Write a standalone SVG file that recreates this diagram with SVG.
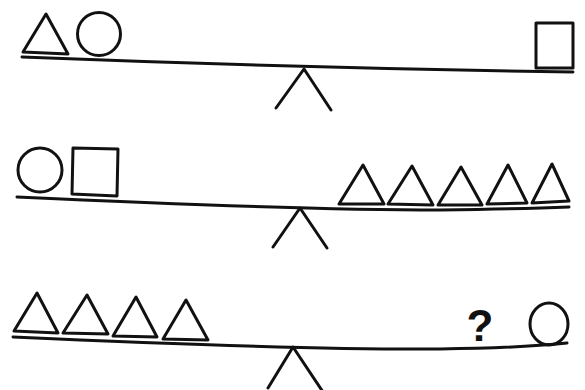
<svg xmlns="http://www.w3.org/2000/svg" width="585" height="390" viewBox="0 0 585 390">
<style>
.s{fill:none;stroke:#111;stroke-width:3;stroke-linejoin:round;stroke-linecap:round}
.b{fill:none;stroke:#111;stroke-width:3;stroke-linecap:round}
.q{font-family:"Liberation Sans",Arial,sans-serif;font-weight:bold;font-size:44px;fill:#111}
</style>
<rect width="585" height="390" fill="#fff"/>
<g id="scale1">
<path class="b" d="M22 57 Q300 68 573 72"/>
<path class="s" d="M276 108 L304 69 L331 110"/>
<polygon class="s" points="46,14 23,52 68,54"/>
<circle class="s" cx="99" cy="34" r="21.5"/>
<rect class="s" x="536" y="23" width="37" height="45"/>
</g>
<g id="scale2">
<path class="b" d="M17 197 Q300 210 440 210 Q520 209 569 207"/>
<path class="s" d="M273 247 L300 208 L327 248"/>
<circle class="s" cx="40" cy="170" r="22"/>
<polygon class="s" points="73,148 118,149 117,196 72,194"/>
<polygon class="s" points="363,165 339,204 384,204"/>
<polygon class="s" points="412,166 388,204 433,205"/>
<polygon class="s" points="461,167 438,205 482,205"/>
<polygon class="s" points="508,165 487,204 527,203"/>
<polygon class="s" points="552,164 532,203 569,201"/>
</g>
<g id="scale3">
<path class="b" d="M13 337 Q300 350 440 349 Q520 348 567 343"/>
<path class="s" d="M268 388 L293 347 L323 392"/>
<polygon class="s" points="37,293 14,331 58,333"/>
<polygon class="s" points="87,295 63,333 108,334"/>
<polygon class="s" points="136,297 113,336 157,337"/>
<polygon class="s" points="186,300 163,339 208,340"/>
<text class="q" x="480" y="341" text-anchor="middle">?</text>
<ellipse class="s" cx="549" cy="324" rx="19" ry="21"/>
</g>
</svg>
